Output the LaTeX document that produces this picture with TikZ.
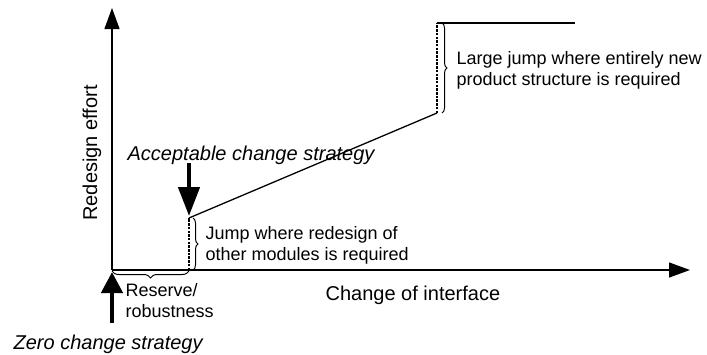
\documentclass[tikz,border=0pt]{standalone}
\usepackage{fontspec}
\setmainfont{Liberation Sans}
\usetikzlibrary{arrows.meta,decorations.pathreplacing}

\begin{document}
\begin{tikzpicture}[x=1pt, y=-1pt, line width=1.3pt,
	axis/.style={-{Triangle[length=21pt,width=15pt]}},
	jump/.style={dash pattern=on 2.5pt off 1.2pt, line width=2pt},
	bracket/.style={decorate, decoration={brace, amplitude=5pt}, line width=1pt},
	strategy/.style={line width=4.5pt, -{Triangle[length=#1,width=21pt]}},
	note/.style={font=\fontsize{18}{21}\selectfont, align=left, anchor=west, inner sep=0pt},
	big/.style={font=\fontsize{20}{24}\selectfont, inner sep=0pt},
	strat/.style={font=\fontsize{20}{24}\selectfont\itshape, inner sep=0pt, anchor=base west}]
	\useasboundingbox (0,0) rectangle (707,354);
	\coordinate (O) at (112,270);
	\coordinate (ytop) at (112,8);
	\coordinate (xend) at (690,270);
	\draw[axis] (O) -- (ytop);
	\draw[axis] (O) -- (xend);
	\coordinate (reserve) at (189,270);
	\coordinate (accept) at (189,218);
	\coordinate (newlow) at (437,113);
	\coordinate (newtop) at (437,23);
	\coordinate (flat) at (575,23);
	\draw[jump] (reserve) -- (accept);
	\draw (accept) -- (newlow);
	\draw[jump] (newlow) -- (newtop);
	\draw (newtop) -- (flat);
	\draw[bracket, decoration={amplitude=7pt}] ([yshift=-1pt]reserve) -- ([yshift=-1pt]O);
	\draw[bracket] ([xshift=4pt]accept) -- ([xshift=4pt]reserve);
	\draw[bracket] ([xshift=5pt]newtop) -- ([xshift=5pt]newlow);
	\node[big, rotate=90] (effort) at (92,153) {Redesign effort};
	\node[big, anchor=base west] (interface) at (325,300) {Change of interface};
	\node[strat] (acceptlbl) at (127,160) {Acceptable change strategy};
	\node[strat] (zerolbl) at (13,349) {Zero change strategy};
	\coordinate (acceptfoot) at (189,163);
	\coordinate (accepttip) at (189,216);
	\draw[strategy=29pt] (acceptfoot) -- (accepttip);
	\coordinate (zerofoot) at (112,323);
	\coordinate (zerotip) at (112,272);
	\draw[strategy=21pt] (zerofoot) -- (zerotip);
	\node[note] (reservelbl) at (125,301) {Reserve/\\robustness};
	\node[note] (jumplbl) at (205,245) {Jump where redesign of\\other modules is required};
	\node[note] (largelbl) at (456,70) {Large jump where entirely new\\product structure is required};
\end{tikzpicture}
\end{document}
